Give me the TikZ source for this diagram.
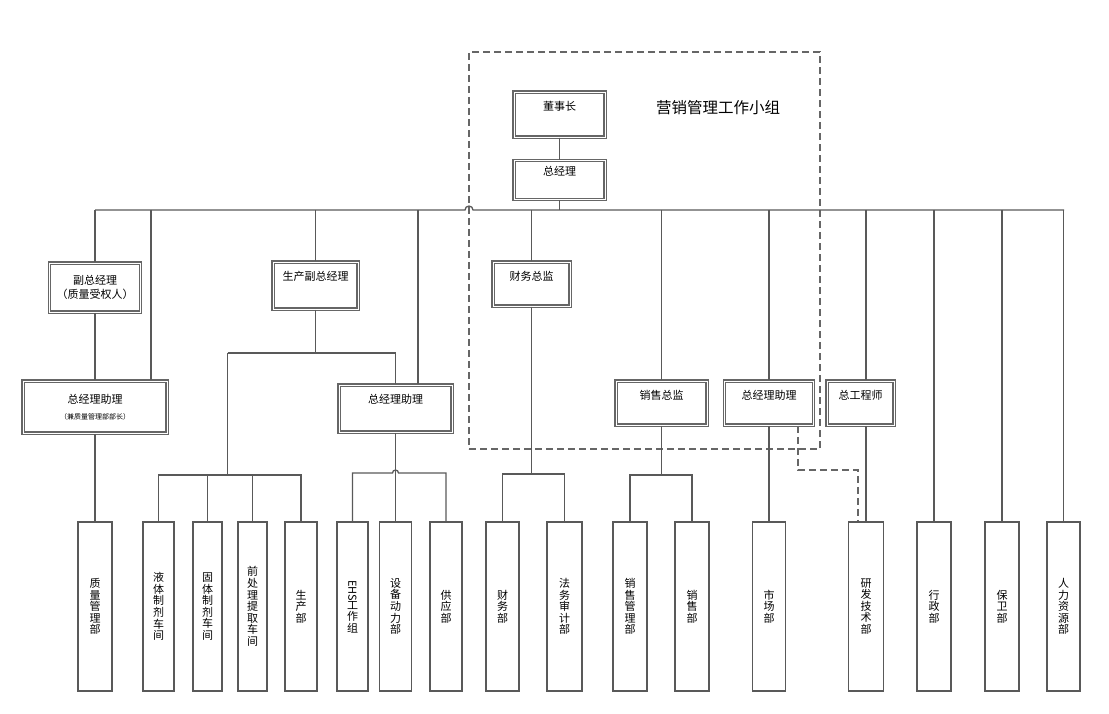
\documentclass[tikz,border=0pt]{standalone}
\usepackage{fontspec}
\setmainfont{Noto Sans CJK SC}
\usepackage{graphicx}
\usetikzlibrary{positioning,calc}
\newcommand\deptfont{\fontsize{11}{11.6}\selectfont\lineskiplimit=-\maxdimen\relax}

\begin{document}
\begin{tikzpicture}[x=1pt, y=-1pt,
    ln/.style={draw=black!65, line width=1.3pt},
    dsh/.style={draw=black!60, line width=1.3pt, dash pattern=on 7pt off 4pt},
    box/.style={draw=black!60, double=white, double distance=0.7pt, line width=1.5pt, inner sep=1pt, align=center, font=\fontsize{11}{14}\selectfont},
    toptxt/.style={label={[anchor=center, yshift=-15pt, font=\fontsize{11}{14}\selectfont]north:#1}},
    dept/.style={draw=black!65, line width=1.3pt, minimum width=#1, minimum height=169, inner sep=0pt, align=center, font=\deptfont},
    grpbox/.style={dsh, minimum width=351, minimum height=397, inner sep=0pt},
]
\useasboundingbox (0,0) rectangle (1109,714);

% Group
\node[grpbox] (grp) at (644.5,250.5) {};
\node[font=\fontsize{15.5}{18}\selectfont] (grpt) at (718,108) {营销管理工作小组};

% Top
\node[box, toptxt=董事长, minimum width=91, minimum height=45] (dsz) at (559.5,114.5) {};
\node[box, minimum width=91, minimum height=39, below=22pt of dsz,
      label={[anchor=center, yshift=-12pt, font=\fontsize{11}{14}\selectfont]north:总经理}] (zjl) {};

% Bus
\coordinate (b0) at (95,210);
\coordinate (bR) at (1064,210);
\coordinate (hop1) at (469,210);
\coordinate (bzl1) at (151,210);
\coordinate (bzl2) at (418,210);
\coordinate (bzg) at (866,210);

% Second row
\node[box, minimum width=91, minimum height=49] (fzjl) at (95,287.5) {副总经理\\（质量受权人）};
\node[box, minimum width=144, minimum height=52] (zl1) at (95,407) {总经理助理\\[2pt]{\fontsize{7}{8}\selectfont （兼质量管理部部长）}};
\node[box, toptxt=生产副总经理, minimum width=85, minimum height=47] (sczjl) at (315.5,285.5) {};
\node[box, toptxt=总经理助理, minimum width=113, minimum height=47] (zl2) at (395.5,408.5) {};
\node[box, toptxt=财务总监, minimum width=77, minimum height=44] (cwzj) at (531.5,284) {};
\node[box, toptxt=销售总监, minimum width=91, minimum height=44] (xszj) at (661.5,403) {};
\node[box, toptxt=总经理助理, minimum width=89, minimum height=44] (zl3) at (769,403) {};
\node[box, toptxt=总工程师, minimum width=67, minimum height=44] (zgcs) at (860.5,403) {};

% Departments
\node[dept=34] (zlgl) at (95,606.5) {质\\量\\管\\理\\部};
\node[dept=31] (ytzj) at (158.5,606.5) {液\\体\\制\\剂\\车\\间};
\node[dept=29] (gtzj) at (207.5,606.5) {固\\体\\制\\剂\\车\\间};
\node[dept=29] (qcl) at (252.5,606.5) {前\\处\\理\\提\\取\\车\\间};
\node[dept=32] (scb) at (301,606.5) {生\\产\\部};
\node[dept=31] (ehs) at (352.5,606.5) {\rotatebox[origin=c]{-90}{EHS}\\[3pt]工\\作\\组};
\node[dept=32] (sbdl) at (395.5,606.5) {设\\备\\动\\力\\部};
\node[dept=32] (gyb) at (446,606.5) {供\\应\\部};
\node[dept=33] (cwb) at (502.5,606.5) {财\\务\\部};
\node[dept=35] (fwsj) at (564.5,606.5) {法\\务\\审\\计\\部};
\node[dept=34] (xsgl) at (630,606.5) {销\\售\\管\\理\\部};
\node[dept=34] (xsb) at (692,606.5) {销\\售\\部};
\node[dept=33] (shc) at (769,606.5) {市\\场\\部};
\node[dept=35] (yfjs) at (866,606.5) {研\\发\\技\\术\\部};
\node[dept=34] (xzb) at (934,606.5) {行\\政\\部};
\node[dept=34] (bwb) at (1002,606.5) {保\\卫\\部};
\node[dept=33] (rlzy) at (1063.5,606.5) {人\\力\\资\\源\\部};

% Lines
\draw[ln] (dsz) -- (zjl);
\draw[ln] (zjl.south) -- (zjl.south |- b0);
\draw[ln] (b0) -- ($(hop1)+(-4,0)$) arc[start angle=180, end angle=0, radius=4pt] -- (bR);
\draw[ln] (b0) -- (fzjl.north);
\draw[ln] (bzl1) -- (bzl1 |- zl1.north);
\draw[ln] (sczjl.north |- b0) -- (sczjl.north);
\draw[ln] (bzl2) -- (bzl2 |- zl2.north);
\draw[ln] (cwzj.north |- b0) -- (cwzj.north);
\draw[ln] (xszj.north |- b0) -- (xszj.north);
\draw[ln] (zl3.north |- b0) -- (zl3.north);
\draw[ln] (bzg) -- (bzg |- zgcs.north);
\draw[ln] (xzb.north |- b0) -- (xzb.north);
\draw[ln] (bwb.north |- b0) -- (bwb.north);
\draw[ln] (rlzy.north |- bR) -- (rlzy.north);

\draw[ln] (fzjl) -- (zl1);
\draw[ln] (zl1) -- (zlgl);

% Production
\coordinate (ksc) at (227.5,353);
\coordinate (jsc) at (227.5,475);
\draw[ln] (sczjl.south) -- (sczjl.south |- ksc);
\draw[ln] (ksc) -| (zl2.north);
\draw[ln] (ksc) -- (jsc);
\draw[ln] (ytzj.north) |- (jsc) -| (scb.north);
\draw[ln] (gtzj.north) -- (gtzj.north |- jsc);
\draw[ln] (qcl.north) -- (qcl.north |- jsc);

\coordinate (hop2) at (395.5,473);
\draw[ln] (zl2.south) -- (sbdl.north);
\draw[ln] (ehs.north) |- ($(hop2)+(-3,0)$) arc[start angle=180, end angle=0, radius=3pt] -- (hop2 -| gyb.north) -- (gyb.north);

% Finance and sales
\coordinate (jcw) at (531.5,474);
\draw[ln] (cwzj.south) -- (jcw);
\draw[ln] (cwb.north) |- (jcw) -| (fwsj.north);
\coordinate (jxs) at (661.5,475);
\draw[ln] (xszj.south) -- (jxs);
\draw[ln] (xsgl.north) |- (jxs) -| (xsb.north);
\draw[ln] (zl3) -- (shc);
\draw[ln] (bzg |- zgcs.south) -- (yfjs.north);

% Dashed link
\coordinate (d1) at (798,470);
\draw[dsh] (d1 |- zl3.south) -- (d1) -| ($(yfjs.north)+(-8,0)$);
\end{tikzpicture}
\end{document}
